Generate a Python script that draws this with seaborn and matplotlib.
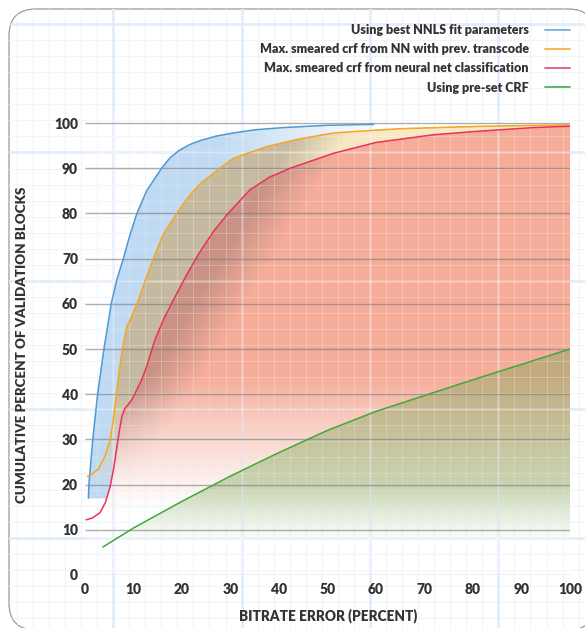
import os
import numpy as np
import pandas as pd
import matplotlib.pyplot as plt
import seaborn as sns
from matplotlib import font_manager
from matplotlib.font_manager import FontProperties
from matplotlib.patches import FancyBboxPatch
from matplotlib.collections import LineCollection
from matplotlib.lines import Line2D

# values (bitrate error % -> cumulative % of blocks)
nnls_x = [0.7, 0.8, 1.2, 1.6, 2.6, 3.9, 5.4, 6.6, 7.9, 9.2, 10.7, 12.7, 15.8, 17.5,
          19.5, 21.5, 23.7, 27, 30.5, 35, 40.9, 50, 59.5]
nnls_y = [17, 20, 25, 30, 40, 50, 60, 65.5, 70, 75, 80, 85, 90, 92.3,
          94, 95.2, 96.1, 97.1, 97.8, 98.5, 99.0, 99.5, 99.7]

prev_x = [0.5, 1.5, 2.7, 4.1, 5.2, 5.8, 6.5, 7.1, 7.7, 8.6, 9.3, 10.7, 12.7, 14.1,
          16.1, 18.9, 21.2, 23.7, 27.8, 30.6, 34, 37.5, 44.3, 51.2, 58.1, 65, 78.7, 90, 100]
prev_y = [21.8, 22.4, 23.4, 26.2, 30, 34, 40.3, 45.5, 50, 54.9, 56.4, 60, 66, 70,
          75.3, 80, 83.5, 86.5, 90, 92.2, 93.5, 94.8, 96.5, 97.8, 98.3, 98.75, 99.2, 99.45, 99.6]

nn_x = [0.2, 1.5, 3.1, 4.2, 5.2, 5.9, 6.5, 7.1, 7.6, 8.2, 8.9, 9.8, 10.7, 11.7, 12.7,
        14.4, 16.3, 18.2, 21, 23.7, 26.5, 29.5, 34, 38, 42.3, 51.2, 60, 71.8, 80, 92.4, 100]
nn_y = [12.2, 12.6, 13.8, 16, 19.6, 23.5, 27.7, 32, 35.1, 36.8, 37.7, 39, 41, 43.3, 46.1,
        52, 56.8, 60.8, 66.5, 71.5, 76, 80, 85.2, 88, 90, 93.3, 95.7, 97.4, 98.1, 99, 99.3]

crf_x = [3.7, 10, 20, 30, 40, 50, 60, 70, 80, 90, 100]
crf_y = [6.2, 10.4, 16.3, 21.9, 27.1, 32.0, 36.2, 39.7, 43.2, 46.6, 50]

ticks = list(range(0, 101, 10))
tick_labels = [str(t) for t in ticks]

labels = ['Using best NNLS fit parameters',
          'Max. smeared crf from NN with prev. transcode',
          'Max. smeared crf from neural net classification',
          'Using pre-set CRF']
line_colors = ['#4f9bd6', '#f6a623', '#e8335c', '#41a83c']
legend_colors = ['#7fb5e3', '#fdb54b', '#ec5f90', '#5cb85c']

df = pd.concat([
    pd.DataFrame({'err': nnls_x, 'cum': nnls_y, 'series': labels[0]}),
    pd.DataFrame({'err': prev_x, 'cum': prev_y, 'series': labels[1]}),
    pd.DataFrame({'err': nn_x, 'cum': nn_y, 'series': labels[2]}),
    pd.DataFrame({'err': crf_x, 'cum': crf_y, 'series': labels[3]}),
])

sns.set_style('white')
plt.rcParams['font.family'] = ['Lato', 'DejaVu Sans']

# take a heavy font file directly
font_files = {os.path.splitext(os.path.basename(f.fname))[0]: f.fname
              for f in font_manager.fontManager.ttflist}
heavy_path = next((font_files[n] for n in ['Lato-Black', 'Lato-Heavy', 'Lato-ExtraBold',
                                           'Roboto-Black', 'OpenSans-ExtraBold',
                                           'Inter-ExtraBold', 'NotoSans-ExtraBold',
                                           'DejaVuSans-Bold', 'LiberationSans-Bold']
                   if n in font_files), None)


def heavy(size):
    if heavy_path:
        return FontProperties(fname=heavy_path, size=size)
    return FontProperties(family='DejaVu Sans', weight='bold', size=size)


txt = '#333333'

fig = plt.figure(figsize=(5.85, 6.28), dpi=100)

# graph paper card behind everything
bg = fig.add_axes([0, 0, 1, 1], zorder=-5)
bg.set_xlim(0, 585)
bg.set_ylim(628, 0)
bg.axis('off')
card = FancyBboxPatch((9, 9), 586, 621, boxstyle='round,pad=0,rounding_size=27',
                      fc='white', ec='#9a9a9a', lw=0.9)
bg.add_patch(card)
vx = 0.8 + 16.05 * np.arange(38)
hy = 8 + 16.05 * np.arange(40)
thin = [[(x, 0), (x, 640)] for x in vx] + [[(0, y), (600, y)] for y in hy]
thick = [[(x, 0), (x, 640)] for x in vx[7::8]] + [[(0, y), (600, y)] for y in hy[1::8]]
for segs, col, lw in [(thin, '#edf4fc', 0.75), (thick, '#e2edf9', 2.0)]:
    lc = LineCollection(segs, colors=col, linewidths=lw)
    bg.add_collection(lc)
    lc.set_clip_path(card)

ax = fig.add_axes([85 / 585, 53 / 628, 485 / 585, 461 / 628])
ax.patch.set_alpha(0)

# gradient area fills, layered into one image (2x supersampled)
W, H = 970, 922
X, Y = np.meshgrid(np.linspace(0, 100, W), np.linspace(0, 102, H))
C = np.zeros((H, W, 3))
A = np.zeros((H, W))


def curve(x, y):
    return np.interp(X, x, y, left=np.nan, right=np.nan)


def layer(mask, rgb, alpha):
    global C, A
    a = alpha * mask
    C = C * (1 - a)[..., None] + np.array(rgb) * a[..., None]
    A = A * (1 - a) + a


top_b, top_o, top_r, top_g = (curve(nnls_x, nnls_y), curve(prev_x, prev_y),
                              curve(nn_x, nn_y), curve(crf_x, crf_y))
under_o = Y <= top_o
under_r = Y <= top_r

layer((Y <= top_b) & (Y >= 17) & ~under_r, (0.66, 0.80, 0.94),
      0.72 * np.clip((62 - X) / 35, 0, 1))
layer(under_o & ~under_r, (0.975, 0.90, 0.72), 0.85 * np.clip((Y - 20) / 15, 0, 1))
layer(under_r, (0.96, 0.64, 0.56), 0.9 * np.clip((Y - 14) / 30, 0, 1) ** 1.15)
# diagonal shading over the left part of the orange/red areas
s = -0.854 * 4.85 * (X - 29) + 0.52 * 4.52 * (Y - 53)
layer(under_o, (0.38, 0.34, 0.32),
      0.3 * np.clip(s / 45, 0, 1) * np.clip((Y - 20) / 22, 0, 1))
layer(Y <= top_g, (0.50, 0.66, 0.35), 0.42 * np.clip((Y - 7.5) / 12, 0, 1))

rgba = np.dstack([C / np.maximum(A, 1e-6)[..., None], A])
ax.imshow(rgba, extent=[0, 100, 0, 102], origin='lower', aspect='auto', zorder=1,
          interpolation='antialiased')

# graph paper lines show faintly through the fills
for segs, lw in [(thin, 0.75), (thick, 2.0)]:
    lc = LineCollection(segs, colors='white', linewidths=lw, alpha=0.25, zorder=1.5,
                        transform=bg.transData)
    ax.add_collection(lc)
    lc.set_clip_path(card)

ax.hlines(ticks, 0, 100, color='#7a7a7a', lw=1.0, alpha=0.6, zorder=2)

sns.lineplot(data=df, x='err', y='cum', hue='series', hue_order=labels,
             palette=line_colors, lw=1.1, ax=ax, legend=False, zorder=3)

ax.set_xlim(0, 100)
ax.set_ylim(0, 102)
ax.set_xticks(ticks, tick_labels, fontproperties=heavy(10))
ax.set_yticks(ticks, tick_labels, fontproperties=heavy(10))
ax.tick_params(length=0, colors=txt)
ax.tick_params(axis='y', pad=5)
ax.tick_params(axis='x', pad=6)
sns.despine(ax=ax, left=True, bottom=True)
ax.set_xlabel('')
ax.set_ylabel('')

fig.text(22 / 585, 1 - 345 / 628, 'CUMULATIVE PERCENT OF VALIDATION BLOCKS', rotation=90,
         ha='center', va='center', fontproperties=heavy(9.6), color=txt)
fig.text(328 / 585, 1 - 616 / 628, 'BITRATE ERROR (PERCENT)',
         ha='center', va='center', fontproperties=heavy(9.8), color=txt)

handles = [Line2D([], [], color=c, lw=1.4) for c in legend_colors]
ax.legend(handles, labels, loc='upper right', bbox_to_anchor=(570 / 585, 1 - 24 / 628),
          bbox_transform=fig.transFigure, markerfirst=False, frameon=False,
          prop=heavy(9), labelcolor=txt, handlelength=2.0,
          handletextpad=1.3, labelspacing=0.58, borderpad=0, borderaxespad=0)

fig.savefig('out.png', dpi=100)
